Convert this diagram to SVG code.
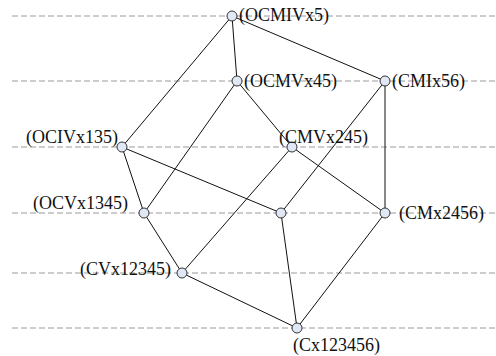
<svg xmlns="http://www.w3.org/2000/svg" width="496" height="356" viewBox="0 0 496 356">
  <style>
    .level { stroke: #9a9a9a; stroke-width: 1; stroke-dasharray: 6 3; fill: none; }
    .edge { stroke: #111; stroke-width: 1; fill: none; }
    .node circle { fill: #dfe8f4; stroke: #333; stroke-width: 1; }
    .node text { font-family: "Liberation Serif", "Times New Roman", serif; font-size: 18px; fill: #111; }
  </style>
  <rect width="496" height="356" fill="#fff"/>

  <!-- level guides -->
  <g id="levels">
    <line class="level" x1="12" y1="16" x2="496" y2="16"/>
    <line class="level" x1="12" y1="81" x2="496" y2="81"/>
    <line class="level" x1="12" y1="147" x2="496" y2="147"/>
    <line class="level" x1="12" y1="213" x2="496" y2="213"/>
    <line class="level" x1="12" y1="273" x2="496" y2="273"/>
    <line class="level" x1="12" y1="328" x2="496" y2="328"/>
  </g>

  <!-- lattice edges -->
  <g id="connectors">
    <line class="edge" x1="232" y1="16" x2="237" y2="81"/>
    <line class="edge" x1="232" y1="16" x2="385" y2="81"/>
    <line class="edge" x1="232" y1="16" x2="122" y2="147"/>
    <line class="edge" x1="237" y1="81" x2="292" y2="147"/>
    <line class="edge" x1="237" y1="81" x2="144" y2="213"/>
    <line class="edge" x1="385" y1="81" x2="385" y2="213"/>
    <line class="edge" x1="385" y1="81" x2="281" y2="213"/>
    <line class="edge" x1="122" y1="147" x2="144" y2="213"/>
    <line class="edge" x1="122" y1="147" x2="281" y2="213"/>
    <line class="edge" x1="292" y1="147" x2="182" y2="273"/>
    <line class="edge" x1="292" y1="147" x2="385" y2="213"/>
    <line class="edge" x1="144" y1="213" x2="182" y2="273"/>
    <line class="edge" x1="281" y1="213" x2="297" y2="328"/>
    <line class="edge" x1="385" y1="213" x2="297" y2="328"/>
    <line class="edge" x1="182" y1="273" x2="297" y2="328"/>
  </g>

  <!-- lattice nodes -->
  <g id="n-OCMIVx5" class="node"><circle cx="232" cy="16" r="5"/><text x="239" y="21">(OCMIVx5)</text></g>
  <g id="n-OCMVx45" class="node"><circle cx="237" cy="81" r="5"/><text x="244" y="87">(OCMVx45)</text></g>
  <g id="n-CMIx56" class="node"><circle cx="385" cy="81" r="5"/><text x="392" y="87">(CMIx56)</text></g>
  <g id="n-OCIVx135" class="node"><circle cx="122" cy="147" r="5"/><text x="26" y="143">(OCIVx135)</text></g>
  <g id="n-CMVx245" class="node"><circle cx="292" cy="147" r="5"/><text x="279" y="143">(CMVx245)</text></g>
  <g id="n-OCVx1345" class="node"><circle cx="144" cy="213" r="5"/><text x="33" y="209">(OCVx1345)</text></g>
  <g id="n-mid" class="node"><circle cx="281" cy="213" r="5"/></g>
  <g id="n-CMx2456" class="node"><circle cx="385" cy="213" r="5"/><text x="399" y="219">(CMx2456)</text></g>
  <g id="n-CVx12345" class="node"><circle cx="182" cy="273" r="5"/><text x="80" y="275">(CVx12345)</text></g>
  <g id="n-Cx123456" class="node"><circle cx="297" cy="328" r="5"/><text x="293" y="351">(Cx123456)</text></g>
</svg>
